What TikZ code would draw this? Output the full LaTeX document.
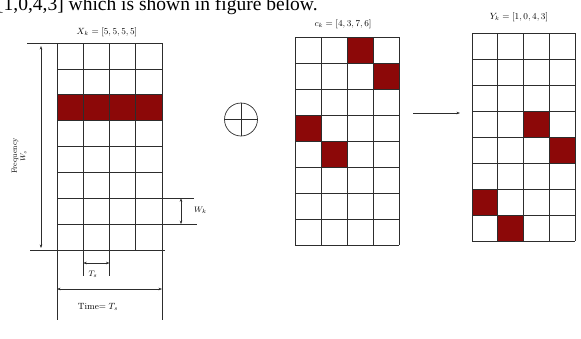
\documentclass[tikz,border=0pt]{standalone}
\usepackage{fontspec}
\newfontfamily\timesfont{Liberation Serif}
\usetikzlibrary{arrows.meta}
\definecolor{cellred}{RGB}{140,8,8}
\definecolor{gridline}{RGB}{45,45,45}
\begin{document}
\begin{tikzpicture}[x=1pt,y=-1pt,
  gridl/.style={draw=gridline,line width=0.7pt},
  dimline/.style={draw=gridline,line width=0.55pt,{Stealth[length=3.5pt,width=2.6pt]}-{Stealth[length=3.5pt,width=2.6pt]}},
  arrline/.style={draw=gridline,line width=0.55pt,-{Stealth[length=3.5pt,width=2.6pt]}},
  lbl/.style={inner sep=0pt,font=\fontsize{8}{9}\selectfont},
  ttl/.style={inner sep=0pt,font=\fontsize{9}{10}\selectfont}]
\useasboundingbox (0,0) rectangle (581,338);

% cut-off sentence at the top
\node[anchor=base west,inner sep=0pt,font=\timesfont\fontsize{19.5}{22}\selectfont] (sent) at (-3,10) {[1,0,4,3] which is shown in figure below.};

% ---------- left grid X_k ----------
\fill[cellred] (57,94.75) rectangle (162,120.6);
\foreach \i in {1,...,7} \draw[gridl] (57,43+\i*25.875) -- (162,43+\i*25.875);
\draw[gridl] (27,43) -- (162,43);
\draw[gridl] (30,250) -- (165,250);
\draw[gridl] (57,43) -- (57,320);
\draw[gridl] (162,43) -- (162,320);
\draw[gridl] (83.25,43) -- (83.25,276);
\draw[gridl] (109.5,43) -- (109.5,276);
\draw[gridl] (135.75,43) -- (135.75,250);
% W_k extension lines
\draw[gridl] (162,198.25) -- (194,198.25);
\draw[gridl] (162,224.1) -- (197,224.1);

\node[ttl] (xt) at (107,32) {$X_k=[5,5,5,5]$};

% frequency arrow
\coordinate (f1) at (41,46);
\coordinate (f2) at (41,248);
\draw[dimline] (f1) -- (f2);
\node[lbl,rotate=90,align=center,font=\fontsize{7.5}{8.5}\selectfont] (freq) at (19,156) {Frequency\\$W_s$};

% W_k arrow
\coordinate (w1) at (181,198.25);
\coordinate (w2) at (181,224.1);
\draw[dimline] (w1) -- (w2);
\node[lbl,anchor=west] (wk) at (194,210) {$W_k$};

% T_s arrow
\coordinate (t1) at (83.25,263);
\coordinate (t2) at (109.5,263);
\draw[dimline] (t1) -- (t2);
\node[lbl] (ts) at (93,274) {$T_s$};

% Time arrow
\coordinate (T1) at (57,289);
\coordinate (T2) at (162,289);
\draw[dimline] (T1) -- (T2);
\node[ttl] (time) at (98,307) {Time$=T_s$};

% ---------- oplus ----------
\node[circle,draw=gridline,line width=0.7pt,minimum size=33pt,inner sep=0pt] (oplus) at (241,119.5) {};
\draw[gridl] (oplus.north) -- (oplus.south);
\draw[gridl] (oplus.west) -- (oplus.east);

% ---------- middle grid c_k ----------
\foreach \r/\c in {0/2,1/3,3/0,4/1}
  \fill[cellred] (295+\c*26,37+\r*26) rectangle ++(26,26);
\foreach \i in {0,...,8} \draw[gridl] (295,37+\i*26) -- (399,37+\i*26);
\foreach \j in {0,...,4} \draw[gridl] (295+\j*26,37) -- (295+\j*26,245);
\node[ttl] (ct) at (343,24) {$c_k=[4,3,7,6]$};

% arrow
\coordinate (a1) at (413,113);
\coordinate (a2) at (460,113);
\draw[arrline] (a1) -- (a2);

% ---------- right grid Y_k ----------
\foreach \r/\c in {3/2,4/3,6/0,7/1}
  \fill[cellred] (472+\c*25.75,33+\r*26) rectangle ++(25.75,26);
\foreach \i in {0,...,8} \draw[gridl] (472,33+\i*26) -- (575,33+\i*26);
\foreach \j in {0,...,4} \draw[gridl] (472+\j*25.75,33) -- (472+\j*25.75,241);
\node[ttl] (yt) at (519,17) {$Y_k=[1,0,4,3]$};
\end{tikzpicture}
\end{document}
